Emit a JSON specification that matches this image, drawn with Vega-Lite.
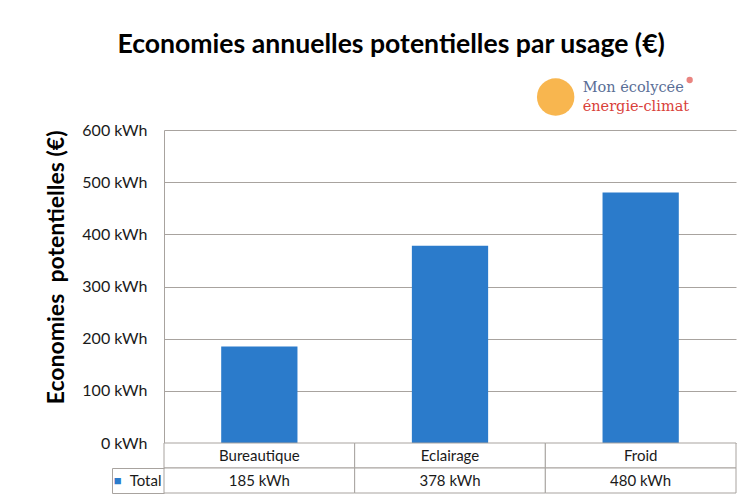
{
  "$schema": "https://vega.github.io/schema/vega-lite/v6.json",
  "padding": {"left": 45, "top": 32, "right": 0, "bottom": 0},
  "background": "#ffffff",
  "bounds": "flush",
  "title": {
    "text": "Economies annuelles potentielles par usage (€)",
    "font": "Lato",
    "fontSize": 26.6,
    "fontWeight": "bold",
    "color": "#000000",
    "anchor": "middle",
    "offset": 18
  },
  "data": {
    "values": [
      {"usage": "Bureautique", "value": 185},
      {"usage": "Eclairage", "value": 378},
      {"usage": "Froid", "value": 480}
    ]
  },
  "spacing": 0,
  "vconcat": [
    {
      "width": 572,
      "height": 313,
      "layer": [
        {
          "mark": {"type": "bar", "color": "#2B7BCB"},
          "encoding": {
            "x": {
              "field": "usage",
              "type": "nominal",
              "sort": null,
              "scale": {"paddingInner": 0.6, "paddingOuter": 0.3},
              "axis": null
            },
            "y": {
              "field": "value",
              "type": "quantitative",
              "scale": {"domain": [0, 600]},
              "axis": {
                "values": [0, 100, 200, 300, 400, 500, 600],
                "labelExpr": "datum.value + ' kWh'",
                "title": "Economies\u00a0 potentielles (€)",
                "titleFont": "Lato",
                "titleFontSize": 23,
                "titleFontWeight": "bold",
                "titleColor": "#000000",
                "titleAnchor": "end",
                "titlePadding": 13,
                "labelFont": "Lato",
                "labelFontSize": 16,
                "labelColor": "#1a1a1a",
                "labelPadding": 17,
                "ticks": false,
                "domainColor": "#A8A39F",
                "gridColor": "#A8A39F",
                "gridOpacity": 1
              }
            }
          }
        },
        {
          "data": {"values": [{}]},
          "mark": {"type": "point", "filled": true, "size": 1400, "color": "#F7AE3C", "opacity": 0.9, "xOffset": -85, "yOffset": -33},
          "encoding": {"x": {"datum": "Froid"}, "y": {"datum": 600}}
        },
        {
          "data": {"values": [{}]},
          "mark": {"type": "text", "text": "Mon écolycée", "font": "DejaVu Serif", "fontSize": 14.5, "color": "#5A6E96", "align": "left", "baseline": "alphabetic", "dx": -58, "dy": -38},
          "encoding": {"x": {"datum": "Froid"}, "y": {"datum": 600}}
        },
        {
          "data": {"values": [{}]},
          "mark": {"type": "text", "text": "énergie-climat", "font": "DejaVu Serif", "fontSize": 14.5, "color": "#D9413A", "align": "left", "baseline": "alphabetic", "dx": -58, "dy": -19},
          "encoding": {"x": {"datum": "Froid"}, "y": {"datum": 600}}
        },
        {
          "data": {"values": [{}]},
          "mark": {"type": "point", "filled": true, "size": 40, "color": "#E0504A", "xOffset": 49, "yOffset": -50},
          "encoding": {"x": {"datum": "Froid"}, "y": {"datum": 600}}
        }
      ]
    },
    {
      "width": 572,
      "height": 50,
      "resolve": {"scale": {"y": "independent"}, "axis": {"y": "independent"}},
      "layer": [
        {
          "layer": [
            {
              "mark": {"type": "rect", "fill": "#ffffff", "stroke": "#A8A39F", "strokeWidth": 1},
              "encoding": {
                "x": {"field": "usage", "type": "nominal", "sort": null, "scale": {"paddingInner": 0, "paddingOuter": 0}, "axis": null},
                "y": {
                  "datum": "h",
                  "type": "nominal",
                  "scale": {"domain": ["h", "t"], "paddingInner": 0, "paddingOuter": 0},
                  "axis": {
                    "labelExpr": "datum.value == 't' ? 'Total' : ''",
                    "ticks": true,
                    "tickBand": "extent",
                    "tickSize": 52,
                    "tickColor": {"condition": {"test": "datum.value === 'h' || datum.value === 't'", "value": "#A8A39F"}, "value": "transparent"},
                    "domain": false,
                    "labelFont": "Lato",
                    "labelFontSize": 15,
                    "labelColor": "#1a1a1a",
                    "labelPadding": -49,
                    "title": null,
                    "orient": "left"
                  }
                }
              }
            },
            {
              "mark": {"type": "rect", "fill": "#ffffff", "stroke": "#A8A39F", "strokeWidth": 1},
              "encoding": {
                "x": {"field": "usage", "type": "nominal", "sort": null},
                "y": {"datum": "t", "type": "nominal"}
              }
            },
            {
              "mark": {"type": "text", "font": "Lato", "fontSize": 15, "color": "#1a1a1a"},
              "encoding": {
                "x": {"field": "usage", "type": "nominal", "sort": null},
                "y": {"datum": "h", "type": "nominal"},
                "text": {"field": "usage"}
              }
            }
          ]
        },
        {
          "mark": {"type": "text", "font": "Lato", "fontSize": 15, "color": "#1a1a1a", "text": {"expr": "datum.value + ' kWh'"}},
          "encoding": {
            "x": {"field": "usage", "type": "nominal", "sort": null},
            "y": {
              "datum": "t",
              "type": "nominal",
              "scale": {"domain": ["h", "t"], "paddingInner": 0, "paddingOuter": 0},
              "axis": {
                "labelExpr": "datum.value == 't' ? '■' : ''",
                "labelColor": "#2B7BCB",
                "labelFontSize": 13,
                "labelPadding": -9,
                "offset": 52,
                "ticks": false,
                "domain": true,
                "domainColor": "#A8A39F",
                "domainDash": [0, 25, 25, 0],
                "title": null,
                "orient": "left"
              }
            }
          }
        }
      ]
    }
  ],
  "config": {"view": {"stroke": null}, "font": "Lato"}
}
